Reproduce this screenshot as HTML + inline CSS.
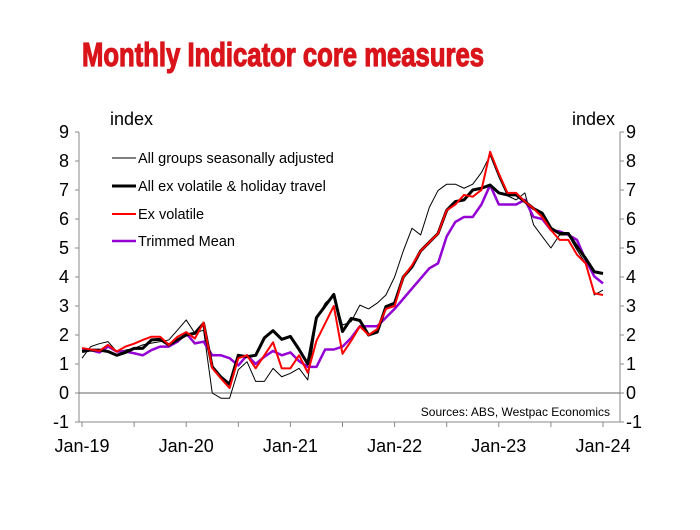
<!DOCTYPE html>
<html><head><meta charset="utf-8"><style>
body{margin:0;background:#fff;}
svg text{font-family:"Liberation Sans",Arial,sans-serif;}
</style></head><body>
<svg id="chart" width="700" height="525" viewBox="0 0 700 525" xmlns="http://www.w3.org/2000/svg">
<text x="82" y="66" font-size="33" font-weight="bold" fill="#d9151b" stroke="#d9151b" stroke-width="1.2" style="font-family:'Liberation Sans Narrow','Liberation Sans',sans-serif" textLength="402" lengthAdjust="spacingAndGlyphs">Monthly Indicator core measures</text>
<text x="110" y="125" font-size="18">index</text>
<text x="572" y="125" font-size="18">index</text>
<g id="axes"></g>
<g id="series"></g>
<g>
<line x1="112" y1="158" x2="136" y2="158" stroke="#000" stroke-width="1"/>
<text x="138" y="163" font-size="14.5">All groups seasonally adjusted</text>
<line x1="112" y1="186" x2="136" y2="186" stroke="#000" stroke-width="3"/>
<text x="138" y="191" font-size="14.5">All ex volatile &amp; holiday travel</text>
<line x1="112" y1="214" x2="136" y2="214" stroke="#f00" stroke-width="2"/>
<text x="138" y="219" font-size="14.5">Ex volatile</text>
<line x1="112" y1="241" x2="136" y2="241" stroke="#9400d3" stroke-width="2.5"/>
<text x="138" y="246" font-size="14.5">Trimmed Mean</text>
</g>
<text x="610" y="416" font-size="12" text-anchor="end">Sources: ABS, Westpac Economics</text>
</svg>
<script>
const xLabels=["Jan-19","Jan-20","Jan-21","Jan-22","Jan-23","Jan-24"];
const yTicks=[-1,0,1,2,3,4,5,6,7,8,9];
const allGroups=[1.2,1.6,1.7,1.77,1.43,1.48,1.54,1.66,1.72,1.77,1.83,2.17,
2.52,2.06,2.17,0.0,-0.18,-0.18,0.8,1.08,0.4,0.4,0.85,0.56,
0.68,0.85,0.45,2.52,3.1,3.38,2.34,2.46,3.03,2.9,3.1,3.38,
4.0,4.9,5.68,5.45,6.4,6.98,7.2,7.2,7.06,7.2,7.6,8.2,
7.45,6.8,6.66,6.9,5.8,5.4,5.0,5.45,5.45,4.93,4.47,3.38,3.55];
const exVolHoliday=[1.43,1.48,1.48,1.43,1.3,1.4,1.54,1.54,1.83,1.85,1.66,1.83,
2.0,2.06,2.4,0.9,0.55,0.3,1.3,1.25,1.3,1.9,2.15,1.85,
1.95,1.5,1.0,2.6,3.0,3.4,2.12,2.57,2.5,2.0,2.1,2.98,
3.1,4.0,4.35,4.9,5.2,5.5,6.3,6.6,6.66,7.0,7.06,7.17,
6.9,6.83,6.83,6.6,6.36,6.2,5.68,5.5,5.5,5.05,4.64,4.18,4.12];
const exVolatile=[1.55,1.5,1.45,1.66,1.43,1.6,1.7,1.83,1.94,1.94,1.66,1.94,
2.1,1.88,2.43,0.86,0.5,0.17,1.2,1.3,0.85,1.3,1.75,0.85,
0.85,1.3,0.7,1.8,2.4,3.0,1.35,1.8,2.3,2.0,2.2,2.9,
3.0,4.0,4.4,4.9,5.2,5.5,6.3,6.5,6.83,6.77,7.0,8.32,
7.57,6.9,6.9,6.6,6.36,6.07,5.62,5.28,5.28,4.77,4.47,3.44,3.38];
const trimmedMean=[1.48,1.48,1.4,1.6,1.43,1.43,1.37,1.3,1.48,1.6,1.6,1.77,
2.06,1.71,1.77,1.3,1.3,1.2,0.95,1.3,1.0,1.25,1.45,1.3,
1.4,1.1,0.9,0.9,1.5,1.5,1.6,1.9,2.3,2.3,2.3,2.6,
2.9,3.25,3.6,3.95,4.3,4.47,5.4,5.9,6.07,6.07,6.5,7.17,
6.5,6.5,6.5,6.66,6.07,6.0,5.62,5.57,5.45,5.28,4.59,4.02,3.78];
const NS="http://www.w3.org/2000/svg";
const L=79,R=620,x0=82,x1=603,yTop=132,yBot=422;
const xs=i=>x0+(x1-x0)*i/60;
const ys=v=>yBot-(v+1)*(yBot-yTop)/10;
function mk(t,a,p){const e=document.createElementNS(NS,t);for(const k in a)e.setAttribute(k,a[k]);p.appendChild(e);return e;}
const ax=document.getElementById('axes');
let e=mk('line',{x1:L,y1:yTop,x2:L,y2:yBot,stroke:'#888','stroke-width':1},ax);


e=mk('line',{x1:R,y1:yTop,x2:R,y2:yBot,stroke:'#888','stroke-width':1},ax);


e=mk('line',{x1:L,y1:yBot,x2:R,y2:yBot,stroke:'#888','stroke-width':1},ax);


e=mk('line',{x1:L,y1:ys(0),x2:R,y2:ys(0),stroke:'#666','stroke-width':1},ax);


yTicks.forEach(v=>{
 mk('line',{x1:L-4,y1:ys(v),x2:L,y2:ys(v),stroke:'#888'},ax);
 mk('line',{x1:R,y1:ys(v),x2:R+4,y2:ys(v),stroke:'#888'},ax);
 let t=mk('text',{x:L-10,y:ys(v)+6,'font-size':18,'text-anchor':'end'},ax);t.textContent=v;
 
 
 t=mk('text',{x:R+6,y:ys(v)+6,'font-size':18},ax);t.textContent=v;
 
 
});
for(let i=0;i<=60;i+=6){mk('line',{x1:xs(i),y1:yBot,x2:xs(i),y2:yBot+5,stroke:'#888'},ax);}
xLabels.forEach((s,k)=>{const t=mk('text',{x:xs(k*12),y:yBot+30,'font-size':18,'text-anchor':'middle'},ax);t.textContent=s;
 
 });
const sg=document.getElementById('series');
function line(d,col,w,name){const p=mk('polyline',{points:d.map((v,i)=>xs(i)+','+ys(v)).join(' '),fill:'none',stroke:col,'stroke-width':w,'stroke-linejoin':'round'},sg);
 
 }
line(allGroups,'#000',1,'series-all-groups');
line(trimmedMean,'#9400d3',2.5,'series-trimmed-mean');
line(exVolHoliday,'#000',3,'series-ex-volatile-holiday');
line(exVolatile,'#f00',2,'series-ex-volatile');
</script>
</body></html>
